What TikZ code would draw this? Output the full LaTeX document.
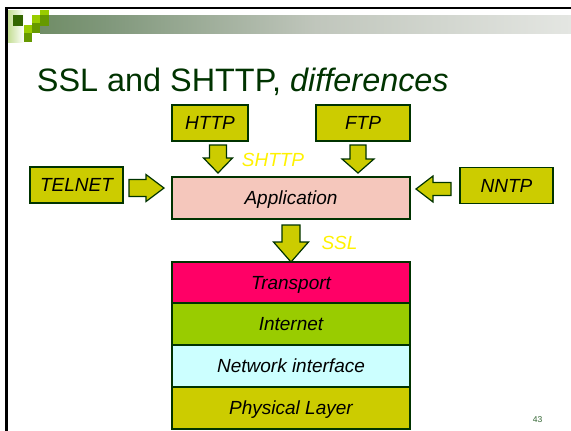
\documentclass[tikz,border=0pt]{standalone}
\usepackage{fontspec}
\setmainfont{Liberation Sans}
\definecolor{dkgreen}{RGB}{0,51,0}
\definecolor{olivebox}{RGB}{204,204,0}
\definecolor{appfill}{RGB}{245,199,188}
\definecolor{transfill}{RGB}{255,0,102}
\definecolor{netfill}{RGB}{153,204,0}
\definecolor{niffill}{RGB}{204,255,255}
\definecolor{sqdark}{RGB}{51,102,0}
\definecolor{sqmid}{RGB}{102,153,0}
\definecolor{sqlight}{RGB}{153,204,0}
\definecolor{fadegreen}{RGB}{196,222,148}
\definecolor{pagenum}{RGB}{51,102,51}
\definecolor{barA}{RGB}{50,100,20}
\definecolor{barB}{RGB}{127,151,122}
\definecolor{barC}{RGB}{192,198,188}
\definecolor{barD}{RGB}{228,230,226}
\definecolor{barE}{RGB}{252,252,252}
\pgfdeclarehorizontalshading{barfade}{100bp}{%
  color(0bp)=(barA); color(31bp)=(barB); color(51bp)=(barC);
  color(75bp)=(barD); color(100bp)=(barE)}
\tikzset{
  lbl/.style={font=\fontsize{19}{22}\selectfont\itshape, inner sep=0pt,
    text height=13.7pt, text depth=0pt},
  ybox/.style={draw=dkgreen, line width=1.3pt, fill=olivebox, lbl, minimum height=36pt},
  layer/.style={draw=dkgreen, line width=1.3pt, minimum width=238pt, minimum height=42pt, lbl},
  barrow/.style={draw=dkgreen, line width=1.2pt, fill=olivebox, line join=miter},
  proto/.style={lbl, text=yellow},
}
\begin{document}
\begin{tikzpicture}[x=1pt,y=-1pt]
\useasboundingbox (0,0) rectangle (571,431);
\fill[white] (0,0) rectangle (571,431);

% header: gradient bar, fading strip and squares
\shade[shading=barfade] (40,15) rectangle (571,33.3);
\shade[left color=fadegreen, right color=white] (8,10) rectangle (24,42);
\fill[white] (24,15) rectangle (40,33.3);
\fill[sqdark]  (13.3,15) rectangle (23.3,26);
\fill[sqlight] (40,10) rectangle (49,15);
\fill[sqlight] (32,15) rectangle (40,22.7);
\fill[sqmid]   (40,15) rectangle (49,26);
\fill[sqlight] (24,25) rectangle (32,33.3);
\fill[sqmid]   (32,22.7) rectangle (40,33.3);
\fill[sqmid]   (24,33.3) rectangle (32,42);

% frame
\draw[line width=2.7pt, line join=miter] (6.7,431) -- (6.7,8) -- (571,8);

% title
\node[anchor=base west, inner sep=0pt, text=dkgreen,
      font=\fontsize{32.4}{38}\selectfont] (title) at (36.7,91.5)
      {SSL and SHTTP, \textit{differences}};

% protocol boxes
\node[ybox, minimum width=76pt] (http) at (210,123) {HTTP};
\node[ybox, minimum width=94pt] (ftp) at (363,123) {FTP};
\node[ybox, minimum width=93pt] (telnet) at (76.5,185) {TELNET};
\node[ybox, minimum width=93pt] (nntp) at (506.5,185.5) {NNTP};
\node[layer, fill=appfill] (app) at (291,198) {Application};

% protocol stack
\node[layer, fill=transfill, minimum height=41pt] (trans) at (291,282.5) {Transport};
\node[layer, fill=netfill] (inet) at (291,324) {Internet};
\node[layer, fill=niffill] (nif) at (291,366) {Network interface};
\node[layer, fill=olivebox] (phys) at (291,408) {Physical Layer};

% block arrows
\draw[barrow] (209.5,145) -- (226.5,145) -- (226.5,158) -- (232.5,158)
  -- (218,173) -- (203.5,158) -- (209.5,158) -- cycle;
\draw[barrow] (350,145) -- (366,145) -- (366,159) -- (374,159)
  -- (358,173) -- (342,159) -- (350,159) -- cycle;
\draw[barrow] (282,225) -- (300,225) -- (300,242) -- (308.5,242)
  -- (291,262) -- (273.5,242) -- (282,242) -- cycle;
\draw[barrow] (129,179.5) -- (146,179.5) -- (146,174.5) -- (164,188)
  -- (146,201.5) -- (146,196.5) -- (129,196.5) -- cycle;
\draw[barrow] (451,182.5) -- (433,182.5) -- (433,176) -- (416,189)
  -- (433,202) -- (433,195.5) -- (451,195.5) -- cycle;

% protocol labels
\node[proto] (shttp) at (273,160) {SHTTP};
\node[proto] (ssl) at (339.5,243) {SSL};

% page number
\node[inner sep=0pt, text=pagenum, font=\fontsize{8.5}{10}\selectfont] (pg) at (537.5,419.5) {43};
\end{tikzpicture}
\end{document}
